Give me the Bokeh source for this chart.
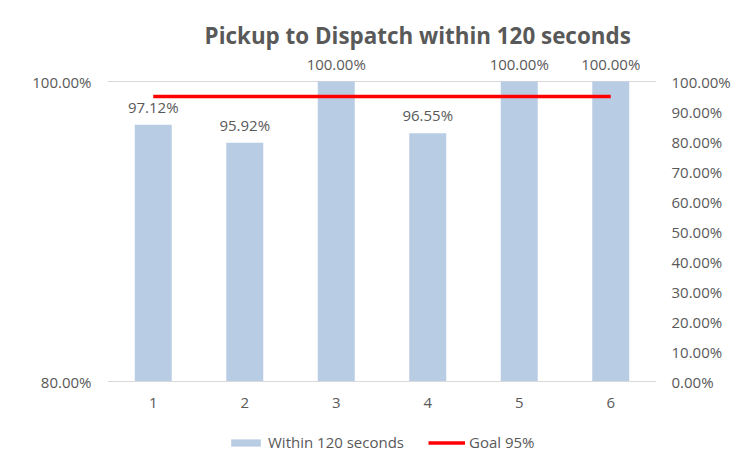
from bokeh.plotting import figure
from bokeh.models import (Range1d, FactorRange, LinearAxis, FixedTicker, NumeralTickFormatter,
                          ColumnDataSource, LabelSet, Label, Legend, LegendItem)
from bokeh.core.properties import value
from bokeh.embed import file_html
from bokeh.resources import INLINE

categories = ["1", "2", "3", "4", "5", "6"]
within_120 = [0.9712, 0.9592, 1.0, 0.9655, 1.0, 1.0]
goal = [0.95, 0.95, 0.95, 0.95, 0.95, 0.95]
left_ticks = [0.8, 1.0]
right_ticks = [0.0, 0.1, 0.2, 0.3, 0.4, 0.5, 0.6, 0.7, 0.8, 0.9, 1.0]
title_text = "Pickup to Dispatch within 120 seconds"
bar_label = "Within 120 seconds"
goal_label = "Goal 95%"

TEXT = "#595959"
FONT = "Open Sans"

# layout: 300 px for the visible value span, room above for the title and below for labels + legend
PLOT_H = 300
TOP_H = 69
EXTRA_H = 79
left_span = 1.0 - 0.8
right_span = 1.0 - 0.0
left_lo = 0.8 - EXTRA_H * left_span / PLOT_H
left_hi = 1.0 + TOP_H * left_span / PLOT_H
right_lo = 0.0 - EXTRA_H * right_span / PLOT_H
right_hi = 1.0 + TOP_H * right_span / PLOT_H
title_y = 1.0 + 46 * left_span / PLOT_H

labels = ["{:.2f}%".format(v * 100) for v in within_120]
src = ColumnDataSource(dict(x=categories, top=within_120, goal=goal, lab=labels))

p = figure(frame_width=549, frame_height=TOP_H + PLOT_H + EXTRA_H,
           x_range=FactorRange(*categories, range_padding=0),
           y_range=Range1d(left_lo, left_hi), output_backend="svg", toolbar_location=None,
           min_border_left=107, min_border_right=80, min_border_top=12, min_border_bottom=3)
p.extra_y_ranges = {"right": Range1d(right_lo, right_hi)}
p.outline_line_color = None
p.background_fill_color = "white"
p.border_fill_color = "white"

title = Label(x=3.39, y=title_y, text=title_text, text_align="center",
              text_baseline="middle", text_font=FONT, text_font_style="bold",
              text_font_size="22.4px", text_color=TEXT)
p.add_layout(title)

bars = p.vbar(x="x", top="top", bottom=0.8, width=0.404, source=src,
              fill_color="#b8cce4", line_color=None)
gline = p.line(x="x", y="goal", source=src, line_color="#ff0000", line_width=3.5,
               y_range_name="right")

lbls = LabelSet(x="x", y="top", text="lab", source=src, text_align="center",
                text_baseline="bottom", y_offset=8, text_font=value(FONT),
                text_font_size="15px", text_color=TEXT)
p.add_layout(lbls)

# left axis
ya = p.yaxis[0]
ya.ticker = FixedTicker(ticks=left_ticks)
ya.formatter = NumeralTickFormatter(format="0.00%")
ya.axis_line_color = None
ya.major_tick_line_color = None
ya.minor_tick_line_color = None
ya.major_label_text_font = FONT
ya.major_label_text_font_size = "15px"
ya.major_label_text_color = TEXT
ya.major_label_standoff = 10

# right axis
ra = LinearAxis(y_range_name="right", ticker=FixedTicker(ticks=right_ticks),
                formatter=NumeralTickFormatter(format="0.00%"))
ra.axis_line_color = None
ra.major_tick_line_color = None
ra.minor_tick_line_color = None
ra.major_label_text_font = FONT
ra.major_label_text_font_size = "15px"
ra.major_label_text_color = TEXT
ra.major_label_standoff = 9
p.add_layout(ra, "right")

# x axis, pinned at the 80% baseline
xa = p.xaxis[0]
xa.fixed_location = 0.8
xa.axis_line_color = "#d9d9d9"
xa.axis_line_width = 1
xa.major_tick_line_color = None
xa.minor_tick_line_color = None
xa.major_label_text_font = FONT
xa.major_label_text_font_size = "15px"
xa.major_label_text_color = TEXT
xa.major_label_standoff = 10

p.xgrid.grid_line_color = None
p.ygrid.ticker = FixedTicker(ticks=[1.0])
p.ygrid.grid_line_color = "#d9d9d9"
p.ygrid.grid_line_width = 1

legend = Legend(items=[LegendItem(label=bar_label, renderers=[bars]),
                       LegendItem(label=goal_label, renderers=[gline])],
                orientation="horizontal", location=(120, 8),
                glyph_width=37, glyph_height=9, label_standoff=4, spacing=24,
                padding=0, margin=0, border_line_color=None, background_fill_alpha=0,
                label_text_font=FONT, label_text_font_size="15px", label_text_color=TEXT)
p.add_layout(legend, "center")

open("out.html", "w").write(file_html(p, INLINE))
